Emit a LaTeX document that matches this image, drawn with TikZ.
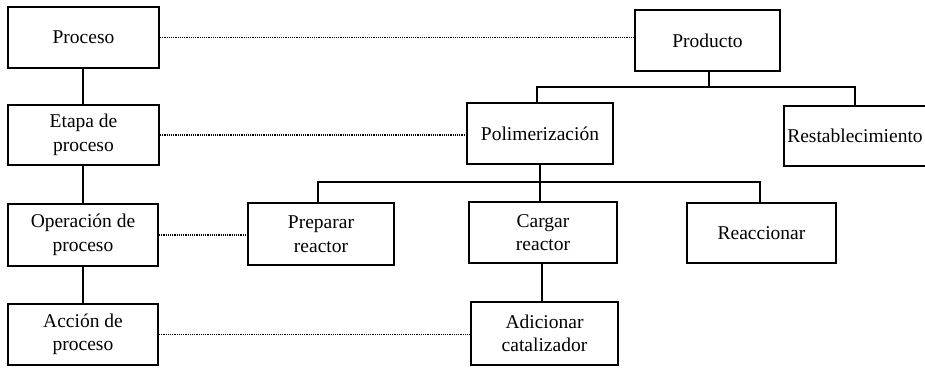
\documentclass[tikz,border=0pt]{standalone}
\usepackage{fontspec}
\setmainfont{Liberation Serif}
\begin{document}
\begin{tikzpicture}[x=1pt,y=-1pt,
  box/.style={draw, line width=2pt, inner sep=0pt, align=center,
    font=\fontsize{19.5}{23.5}\selectfont},
  link/.style={line width=2pt},
  dots/.style={line width=1.8pt, dash pattern=on 1.1pt off 1.1pt}]
\useasboundingbox (0,0) rectangle (925,367);
\clip (0,0) rectangle (925,367);

% level names on the left
\node[box, minimum width=151pt, minimum height=61pt] (proc) at (83.5,37.5) {Proceso};
\node[box, minimum width=151pt, minimum height=60pt] (etapa) at (83.5,135) {Etapa de\\proceso};
\node[box, minimum width=150pt, minimum height=62pt] (oper) at (83,235) {Operación de\\proceso};
\node[box, minimum width=150pt, minimum height=61pt] (accion) at (83,334.5) {Acción de\\proceso};

% product tree
\node[box, minimum width=145pt, minimum height=61pt] (prod) at (707.5,40.5) {Producto};
\node[box, minimum width=146pt, minimum height=61pt] (poli) at (540,133.5) {Polimerización};
\node[box, minimum width=142pt, minimum height=60pt] (rest) at (855,136) {Restablecimiento};
\node[box, minimum width=146pt, minimum height=62pt] (prep) at (321,234) {Preparar\\reactor};
\node[box, minimum width=148pt, minimum height=61pt] (carg) at (543,232.5) {Cargar\\reactor};
\node[box, minimum width=149pt, minimum height=60pt] (reac) at (761.5,233) {Reaccionar};
\node[box, minimum width=147pt, minimum height=63pt] (adic) at (544.5,333.5) {Adicionar\\catalizador};

% hierarchy of levels (one straight vertical line)
\coordinate (lv) at (83,0);
\draw[link] (proc.south -| lv) -- (etapa.north -| lv);
\draw[link] (etapa.south -| lv) -- (oper.north -| lv);
\draw[link] (oper.south -| lv) -- (accion.north -| lv);

% branches of the tree
\coordinate (b1) at (709,87);
\draw[link] (prod.south -| b1) -- (b1);
\draw[link] (poli.north -| 537,0) |- (b1) -| (rest.north);
\coordinate (b2) at (540,182);
\draw[link] (poli.south -| b2) -- (b2);
\draw[link] (prep.north -| 318,0) |- (b2) -| (reac.north -| 760,0);
\draw[link] (b2) -- (carg.north -| b2);
\draw[link] (carg.south -| 542,0) -- (adic.north -| 542,0);

% correspondences between levels and elements
\draw[dots] (proc.east) -- (proc.east -| prod.west);
\draw[dots] (etapa.east) -- (etapa.east -| poli.west);
\draw[dots] (oper.east) -- (oper.east -| prep.west);
\draw[dots] (accion.east) -- (accion.east -| adic.west);
\end{tikzpicture}
\end{document}
